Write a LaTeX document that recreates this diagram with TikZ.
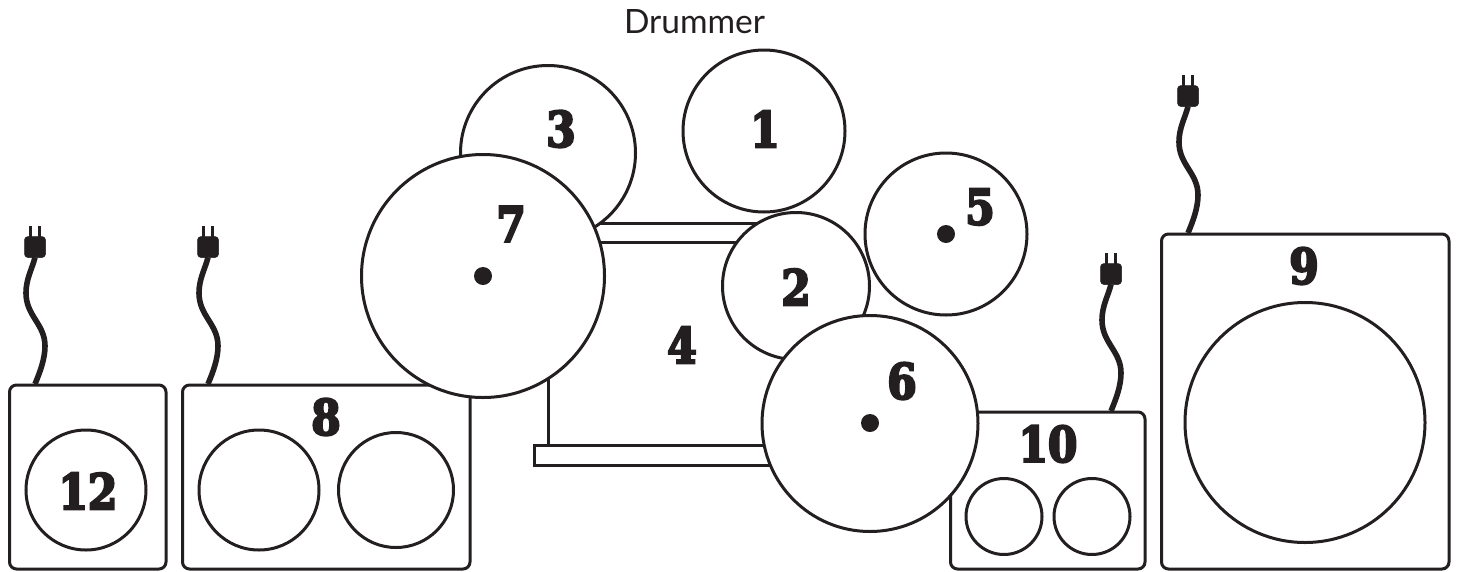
\documentclass[tikz,border=0pt]{standalone}
\usepackage{fontspec}
\setmainfont{Lato}
\newfontfamily\numfont{DejaVu Serif Bold}[FakeBold=4.5,FakeStretch=0.86]
\definecolor{ink}{HTML}{231F20}
\tikzset{
  x=1pt,y=-1pt,
  drum/.style={circle,draw=ink,fill=white,line width=3pt,inner sep=0pt,outer sep=0pt,minimum size=#1},
  amp/.style={draw=ink,fill=white,line width=3pt,rounded corners=7pt},
  shell/.style={draw=ink,fill=white,line width=3pt},
  num/.style={font=\numfont\fontsize{49}{50}\selectfont,text=ink,inner sep=0pt},
  dotmark/.style={circle,fill=ink,inner sep=0pt,minimum size=18pt},
  label/.style={font=\fontsize{33.5}{36}\selectfont,text=ink,inner sep=0pt},
  plug/.style={draw=ink,fill=ink,rounded corners=3.5pt,minimum size=21pt,inner sep=0pt,outer sep=0pt,line width=0.5pt},
  cable/.style={draw=ink,line width=5.6pt},
  prong/.style={draw=ink,line width=2.4pt}
}
\newcommand{\ampcord}[3]{% name, x of base, y of base
  \coordinate (#1base) at (#2,#3);
  \node[plug] (#1plug) at (#2,#3-137) {};
  \draw[cable] (#1base) .. controls (#2+5,#3-12) and (#2+10,#3-25) .. (#2+10,#3-38)
     .. controls (#2+10,#3-60) and (#2-9,#3-68) .. (#2-9,#3-91)
     .. controls (#2-9,#3-105) and (#2-3,#3-115) .. (#1plug.south);
  \draw[prong] ([xshift=-4.5pt]#1plug.north) -- ++(0,-11);
  \draw[prong] ([xshift=4.5pt]#1plug.north) -- ++(0,-11);
}
\begin{document}
\begin{tikzpicture}
\useasboundingbox (0,0) rectangle (1457,571);
\fill[white] (0,0) rectangle (1457,571);
\node[label] (drummer) at (694.5,22) {Drummer};
% amps
\draw[amp] (9.5,385) rectangle (166,569);
\draw[amp] (182.5,385) rectangle (470,569);
\draw[amp] (950.5,412) rectangle (1145,569);
\draw[amp] (1161.5,234) rectangle (1449,569);
\ampcord{a}{35}{384}
\ampcord{b}{208}{384}
\ampcord{c}{1111}{411}
\ampcord{d}{1188}{233}
\node[drum=120pt] (c12) at (86,490) {};
\node[drum=120pt] (c8a) at (259,490) {};
\node[drum=115pt] (c8b) at (396,490) {};
\node[drum=76pt] (c10a) at (1004,516.5) {};
\node[drum=76pt] (c10b) at (1092,516.5) {};
\node[drum=240pt] (c9) at (1305,422.5) {};
% snare shell
\draw[shell] (560,223) rectangle (790,242);
\draw[shell] (534,445) rectangle (790,465);
\draw[shell] (548,242) rectangle (790,445);
% drums
\node[drum=175pt] (d3) at (548,153) {};
\node[drum=162pt] (d1) at (764,131) {};
\node[drum=162pt] (d5) at (946,234) {};
\node[drum=147pt] (d2) at (796,286) {};
\node[drum=243pt] (d7) at (483,276) {};
\node[drum=216pt] (d6) at (870,423.5) {};
\node[dotmark] (p7) at (483,276) {};
\node[dotmark] (p5) at (946,234) {};
\node[dotmark] (p6) at (870,423) {};
% numbers
\node[num] (n1) at (765,129) {1};
\node[num] (n2) at (796,287) {2};
\node[num] (n3) at (561,129) {3};
\node[num] (n4) at (682,345) {4};
\node[num] (n5) at (980,207) {5};
\node[num] (n6) at (902,381) {6};
\node[num] (n7) at (511,224) {7};
\node[num] (n8) at (326,417) {8};
\node[num] (n9) at (1304,266) {9};
\node[num] (n10) at (1048,444) {10};
\node[num] (n12) at (88,491) {12};
\end{tikzpicture}
\end{document}
